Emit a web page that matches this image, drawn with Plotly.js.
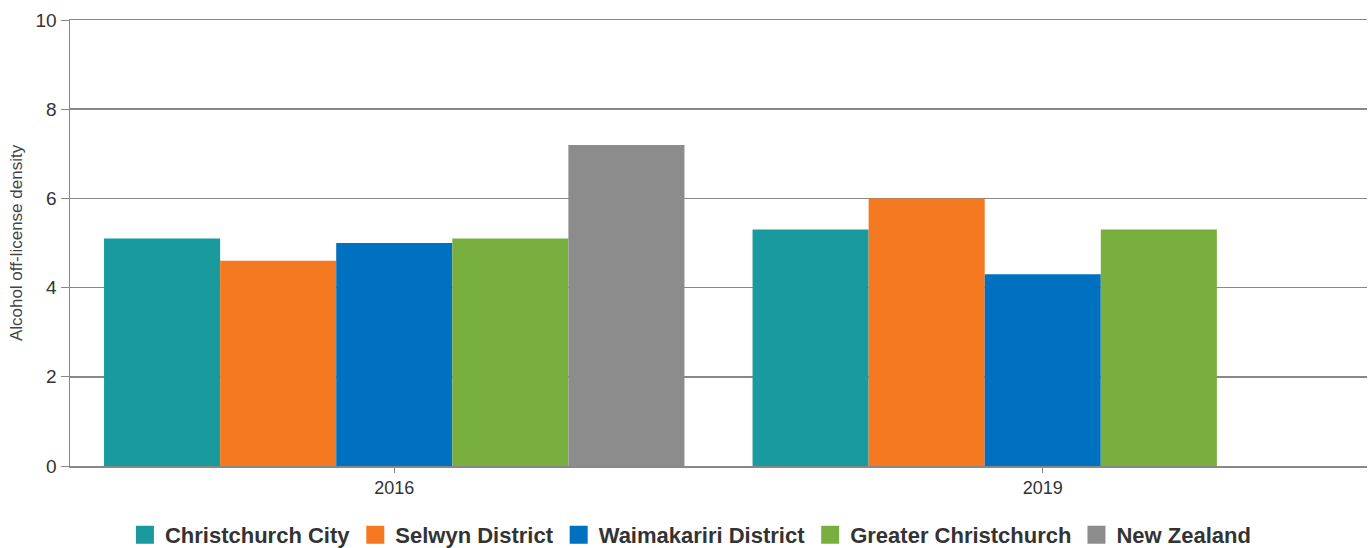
<!DOCTYPE html>
<html>
<head>
<meta charset="utf-8">
<script src="https://cdn.plot.ly/plotly-3.0.1.min.js"></script>
<style>html,body{margin:0;padding:0;background:#fff;}#chart{width:1372px;height:548px;}</style>
</head>
<body>
<div id="chart"></div>
<script>
const years = ["2016", "2019"];
const seriesNames = ["Christchurch City", "Selwyn District", "Waimakariri District", "Greater Christchurch", "New Zealand"];
const christchurchCity = [5.1, 5.3];
const selwynDistrict = [4.6, 6.0];
const waimakaririDistrict = [5.0, 4.3];
const greaterChristchurch = [5.1, 5.3];
const newZealand = [7.2, null];
const colors = ["#189A9F", "#F47920", "#0070C0", "#78AF3F", "#8C8C8C"];

const values = [christchurchCity, selwynDistrict, waimakaririDistrict, greaterChristchurch, newZealand];
const traces = values.map((v, i) => ({
  type: "bar",
  name: seriesNames[i],
  x: years,
  y: v,
  marker: {color: colors[i], line: {width: 0}},
  showlegend: false,
  legendgroup: "g" + i
}));
// legend-only entries with larger square symbols
values.forEach((v, i) => traces.push({
  type: "scatter", mode: "markers",
  name: seriesNames[i],
  x: [null], y: [null],
  marker: {symbol: "square", size: 16, color: colors[i], line: {color: colors[i], width: 2}},
  legendgroup: "g" + i,
  showlegend: true
}));

const layout = {
  width: 1372, height: 548,
  margin: {l: 70, r: 5, t: 20, b: 82},
  paper_bgcolor: "#fff", plot_bgcolor: "#fff",
  barmode: "group",
  bargap: 0.105, bargroupgap: 0,
  font: {family: "Liberation Sans, Arial, sans-serif", color: "#333"},
  xaxis: {
    type: "category",
    showline: true, mirror: true, linecolor: "#888", linewidth: 1.5,
    ticks: "outside", ticklen: 5, tickcolor: "#888",
    tickfont: {size: 18, color: "#333"},
    showgrid: false
  },
  yaxis: {
    range: [0, 10], tickvals: [0, 2, 4, 6, 8, 10],
    showline: true, linecolor: "#888", linewidth: 1.5,
    ticks: "outside", ticklen: 8, tickcolor: "#888",
    gridcolor: "#888", gridwidth: 1.5,
    zeroline: false,
    tickfont: {size: 19, color: "#333"},
    title: {text: "Alcohol off-license density", font: {size: 17, color: "#444"}, standoff: 8}
  },
  legend: {
    orientation: "h", xref: "container", x: 0.5036, xanchor: "center",
    yref: "container", y: 0.024, yanchor: "middle",
    font: {size: 22, color: "#333", family: "Liberation Sans, Arial, sans-serif", weight: "bold"},
    itemsizing: "trace", traceorder: "normal"
  }
};

Plotly.newPlot("chart", traces, layout, {displayModeBar: false, staticPlot: true});
</script>
</body>
</html>
